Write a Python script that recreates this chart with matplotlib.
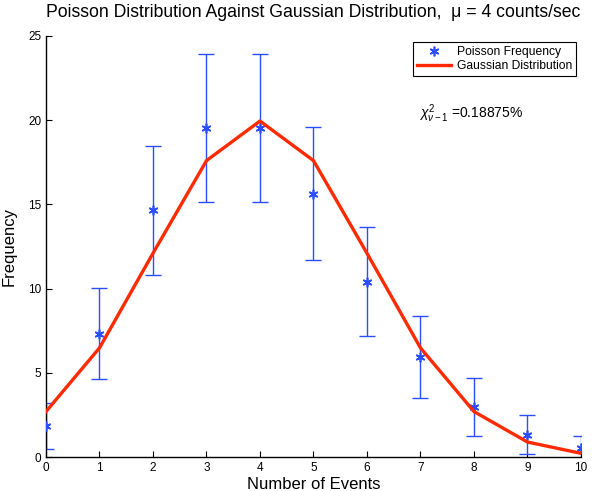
import matplotlib.pyplot as plt

plt.rcParams['font.family'] = ['Liberation Sans', 'DejaVu Sans']
plt.rcParams['mathtext.fontset'] = 'custom'
plt.rcParams['mathtext.rm'] = 'Liberation Sans'
plt.rcParams['mathtext.it'] = 'Liberation Sans:italic'

# events per interval
events = [0, 1, 2, 3, 4, 5, 6, 7, 8, 9, 10]
# measured (Poisson) frequency and its error
poisson_freq = [1.83, 7.33, 14.65, 19.54, 19.54, 15.63, 10.42, 5.95, 2.98, 1.32, 0.53]
poisson_err = [1.35, 2.71, 3.83, 4.42, 4.42, 3.95, 3.23, 2.44, 1.73, 1.15, 0.73]
# gaussian curve
gauss_freq = [2.70, 6.48, 12.10, 17.60, 19.95, 17.60, 12.10, 6.48, 2.70, 0.89, 0.22]

fig = plt.figure(figsize=(6.06, 4.91), dpi=100)
ax = fig.add_axes([0.0759, 0.0692, 0.8828, 0.8575])

blue = '#2a4dff'
ax.errorbar(events, poisson_freq, yerr=poisson_err, fmt='none', ecolor=blue,
            elinewidth=1, capsize=6, capthick=1, zorder=2)
ax.plot(events, poisson_freq, linestyle='none', marker=(6, 2, 0), color=blue,
        markersize=7, markeredgewidth=1.2, label='Poisson Frequency', zorder=3)
ax.plot(events, gauss_freq, color='#ff2a00', linewidth=2.4,
        label='Gaussian Distribution', zorder=4)

ax.set_xlim(0, 10)
ax.set_ylim(0, 25)
ax.set_xticks(events)
ax.set_yticks([0, 5, 10, 15, 20, 25])
ax.tick_params(direction='in', length=4, labelsize=8.5, width=0.8)
ax.spines['top'].set_visible(False)
ax.spines['right'].set_visible(False)
ax.spines['left'].set_linewidth(1)
ax.spines['bottom'].set_linewidth(1)

ax.set_xlabel('Number of Events', fontsize=12, labelpad=2)
ax.set_ylabel('Frequency', fontsize=12, labelpad=8)
ax.set_title('Poisson Distribution Against Gaussian Distribution,  μ = 4 counts/sec',
             fontsize=12.7, pad=14)

leg = ax.legend(loc='upper right', bbox_to_anchor=(0.99, 0.985), fontsize=8.7,
                fancybox=False, framealpha=1, edgecolor='black',
                borderpad=0.3, labelspacing=0.2, handlelength=2.8,
                handletextpad=0.5, borderaxespad=0)
leg.get_frame().set_linewidth(0.8)

ax.text(0.698, 0.805, r'$\chi^2_{\nu-1}$ =0.18875%', transform=ax.transAxes,
        fontsize=10)

fig.savefig('out.png', dpi=100)
